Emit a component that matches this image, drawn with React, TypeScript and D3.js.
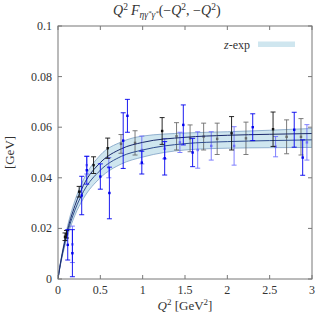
import React from "react";
import * as d3 from "d3";

const xTicks = [0, 0.5, 1, 1.5, 2, 2.5, 3];
const yTicks = [0, 0.02, 0.04, 0.06, 0.08, 0.1];

const curveQ2 = [0, 0.02, 0.05, 0.1, 0.2, 0.3, 0.5, 0.75, 1, 1.5, 2, 2.5, 3];
const lineA = [0, 0.0045, 0.010, 0.0178, 0.029, 0.037, 0.046, 0.0515, 0.054, 0.056, 0.0568, 0.0572, 0.0575];
const lineB = [0, 0.0042, 0.0095, 0.0168, 0.0272, 0.0345, 0.043, 0.0485, 0.051, 0.0535, 0.0543, 0.0547, 0.055];
const bandLo = [0, 0.004, 0.0088, 0.0155, 0.0252, 0.0318, 0.04, 0.0455, 0.0482, 0.051, 0.0517, 0.0519, 0.052];
const bandHi = [0, 0.0047, 0.0105, 0.019, 0.031, 0.0392, 0.049, 0.0542, 0.0565, 0.0577, 0.0582, 0.0588, 0.0595];

// [Q2, value, error]
const blackPts: number[][] = [
  [0.083, 0.0167, 0.0015], [0.1, 0.0177, 0.0015], [0.25, 0.0345, 0.0021], [0.42, 0.045, 0.0033],
  [0.587, 0.0517, 0.004], [1.23, 0.0585, 0.0053], [2.05, 0.0576, 0.0066], [2.54, 0.0592, 0.0068],
];
const grayPts: number[][] = [
  [0.744, 0.0534, 0.0037], [0.91, 0.0538, 0.0048], [1.4, 0.0564, 0.0054], [1.56, 0.0556, 0.0053],
  [1.72, 0.0563, 0.0053], [1.88, 0.0554, 0.0062], [2.22, 0.0556, 0.0064], [2.7, 0.0562, 0.0067],
  [2.87, 0.0562, 0.0072],
];
const bluePts: number[][] = [
  [0.115, 0.0135, 0.006], [0.17, 0.0102, 0.0093], [0.28, 0.033, 0.0076], [0.34, 0.043, 0.0055],
  [0.5, 0.0405, 0.005], [0.607, 0.034, 0.0102], [0.77, 0.0547, 0.011], [0.82, 0.0645, 0.0065],
  [0.99, 0.046, 0.0045], [1.26, 0.0477, 0.0066], [1.48, 0.0609, 0.0079], [1.59, 0.05, 0.0056],
  [2.3, 0.06, 0.0053], [2.79, 0.059, 0.0069], [2.89, 0.048, 0.007],
];
const lightBluePts: number[][] = [
  [0.17, 0.0137, 0.0072], [0.34, 0.045, 0.0035], [0.6, 0.044, 0.004], [0.99, 0.051, 0.0055],
  [1.26, 0.0515, 0.004], [1.44, 0.054, 0.004], [1.65, 0.051, 0.0072], [1.81, 0.0526, 0.0056],
  [2.08, 0.0526, 0.0076], [2.57, 0.0523, 0.004], [2.94, 0.054, 0.007],
];

const W = 316, H = 318;
const L = 58, R = 312, T = 26, B = 279;
const serif = "'Liberation Serif', 'DejaVu Serif', serif";

export default function App() {
  const x = d3.scaleLinear().domain([0, 3]).range([L, R]);
  const y = d3.scaleLinear().domain([0, 0.1]).range([B, T]);
  const idx = curveQ2.map((_, i) => i);
  const line = (arr: number[]) =>
    d3.line<number>().x((i) => x(curveQ2[i])).y((i) => y(arr[i])).curve(d3.curveMonotoneX)(idx) || "";
  const area = d3.area<number>().x((i) => x(curveQ2[i])).y0((i) => y(bandLo[i])).y1((i) => y(bandHi[i])).curve(d3.curveMonotoneX)(idx) || "";

  const errBars = (pts: number[][], color: string, opacity: number, key: string) =>
    pts.map((p, i) => {
      const cx = x(p[0]);
      const y0 = y(p[1] - p[2]);
      const y1 = y(p[1] + p[2]);
      return (
        <g key={key + i} stroke={color} fill={color} opacity={opacity} strokeWidth={0.9}>
          <line x1={cx} x2={cx} y1={y0} y2={y1} />
          <line x1={cx - 2.5} x2={cx + 2.5} y1={y0} y2={y0} />
          <line x1={cx - 2.5} x2={cx + 2.5} y1={y1} y2={y1} />
          <rect x={cx - 1.2} y={y(p[1]) - 1.2} width={2.4} height={2.4} stroke="none" />
        </g>
      );
    });

  return (
    <svg width={W} height={H} style={{ position: "absolute", left: 0, top: 0, background: "#fff" }}>
      <defs>
        <clipPath id="plot">
          <rect x={L} y={T} width={R - L} height={B - T} />
        </clipPath>
      </defs>
      <g clipPath="url(#plot)">
        <path d={area} fill="#cfe6ef" stroke="#7c9fc4" strokeWidth={0.8} />
        {errBars(grayPts, "#555", 0.85, "g")}
        {errBars(lightBluePts, "#5a5aff", 0.85, "lb")}
        <path d={line(lineB)} fill="none" stroke="#2f4d8e" strokeWidth={1} />
        <path d={line(lineA)} fill="none" stroke="#1b2a6b" strokeWidth={1} />
        {errBars(blackPts, "#111", 1, "k")}
        {errBars(bluePts, "#0000ee", 1, "b")}
      </g>
      {/* frame */}
      <rect x={L} y={T} width={R - L} height={B - T} fill="none" stroke="#777" strokeWidth={1} />
      {xTicks.map((t) => (
        <g key={"xt" + t}>
          <line x1={x(t)} x2={x(t)} y1={B} y2={B - 4} stroke="#777" />
          <line x1={x(t)} x2={x(t)} y1={T} y2={T + 4} stroke="#777" />
          <text x={x(t)} y={B + 15} textAnchor="middle" fontFamily={serif} fontSize={12} fill="#333">
            {t}
          </text>
        </g>
      ))}
      {yTicks.map((t) => (
        <g key={"yt" + t}>
          <line x1={L} x2={L + 4} y1={y(t)} y2={y(t)} stroke="#777" />
          <line x1={R} x2={R - 4} y1={y(t)} y2={y(t)} stroke="#777" />
          <text x={L - 6} y={y(t) + 4} textAnchor="end" fontFamily={serif} fontSize={12} fill="#333">
            {t}
          </text>
        </g>
      ))}
      {/* title */}
      <g fontFamily={serif} fill="#333">
        <text x={113} y={15} fontSize={14}>
          <tspan fontStyle="italic">Q</tspan>
          <tspan fontSize={9.5} dy={-5}>2</tspan>
          <tspan dy={5} fontStyle="italic" dx={3}>F</tspan>
          <tspan fontSize={9.5} dy={3} fontStyle="italic">ηγ</tspan>
          <tspan fontSize={7} dy={-3.5} fontStyle="italic">*</tspan>
          <tspan fontSize={9.5} dy={3.5} fontStyle="italic">γ</tspan>
          <tspan fontSize={7} dy={-3.5} fontStyle="italic">*</tspan>
          <tspan dy={0.5}>(−</tspan>
          <tspan fontStyle="italic">Q</tspan>
          <tspan fontSize={9.5} dy={-5}>2</tspan>
          <tspan dy={5}>, −</tspan>
          <tspan fontStyle="italic">Q</tspan>
          <tspan fontSize={9.5} dy={-5}>2</tspan>
          <tspan dy={5}>)</tspan>
        </text>
      </g>
      {/* legend */}
      <text x={250} y={49} textAnchor="end" fontFamily={serif} fontSize={12} fill="#333">
        <tspan fontStyle="italic">z</tspan>-exp
      </text>
      <rect x={258} y={41.5} width={37} height={5.5} fill="#cfe6ef" />
      {/* axis labels */}
      <text x={185} y={310} textAnchor="middle" fontFamily={serif} fontSize={13} fill="#333">
        <tspan fontStyle="italic">Q</tspan>
        <tspan fontSize={9} dy={-5}>2</tspan>
        <tspan dy={5}> [GeV</tspan>
        <tspan fontSize={9} dy={-5}>2</tspan>
        <tspan dy={5}>]</tspan>
      </text>
      <text transform={`translate(14,${(T + B) / 2}) rotate(-90)`} textAnchor="middle" fontFamily={serif} fontSize={13} fill="#333">
        [GeV]
      </text>
    </svg>
  );
}
